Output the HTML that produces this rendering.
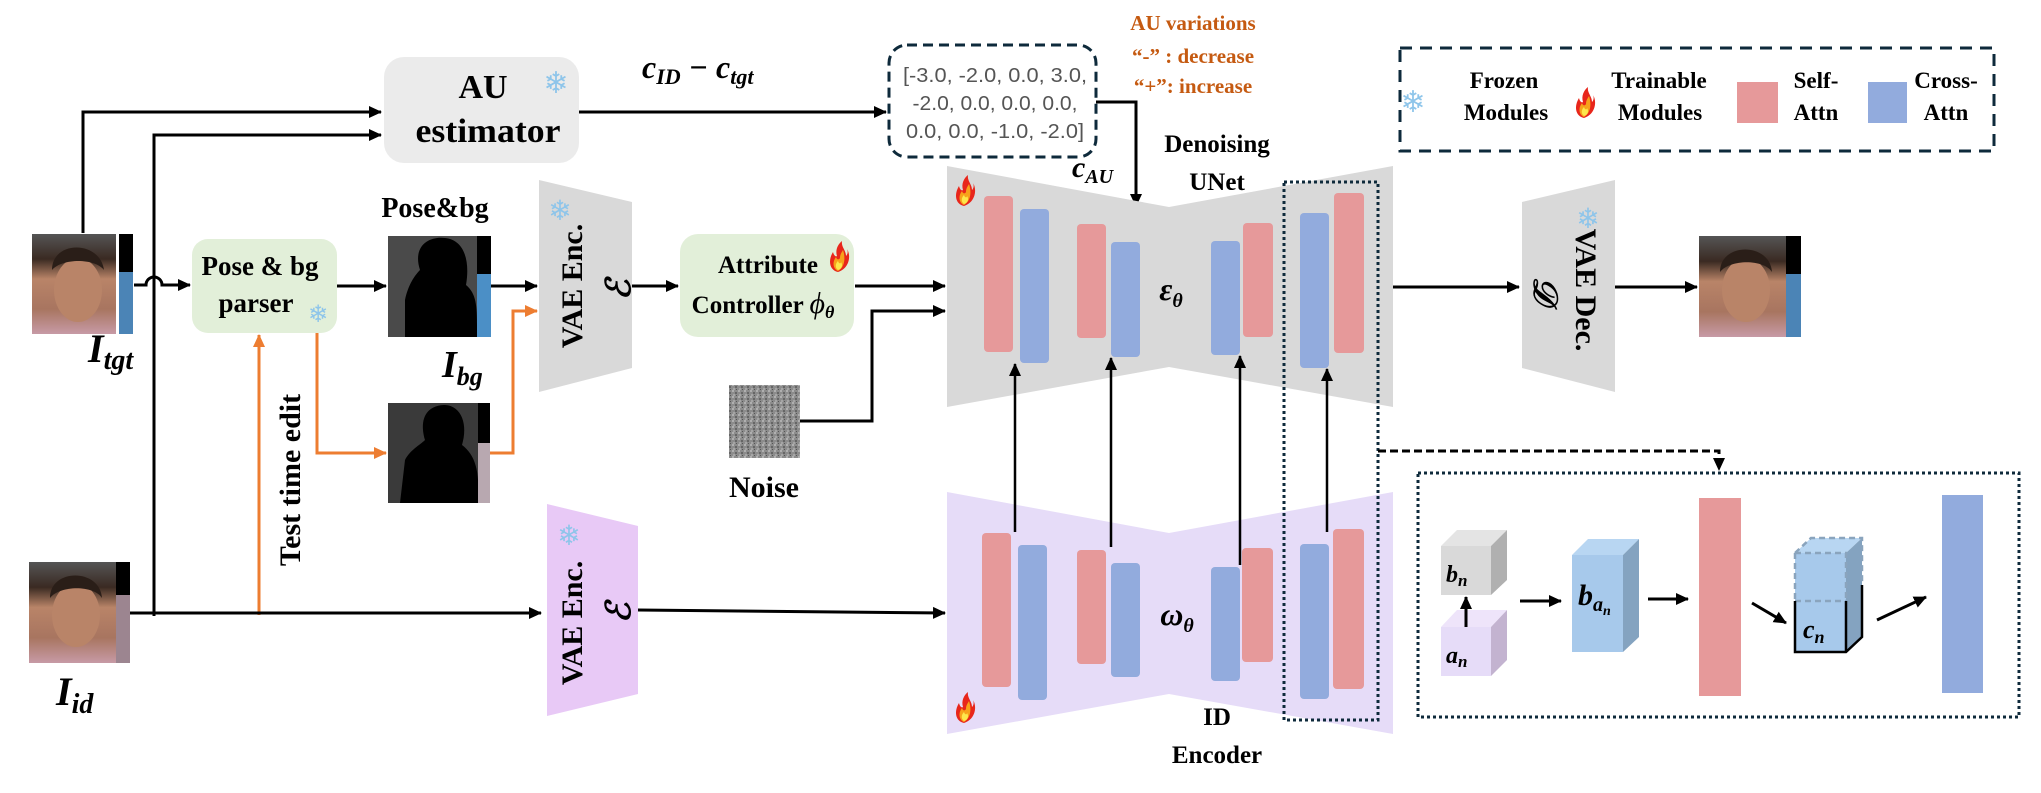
<!DOCTYPE html>
<html><head><meta charset="utf-8"><style>
html,body{margin:0;padding:0;background:#fff;}
svg{display:block;}
text{font-family:"Liberation Serif",serif;font-weight:bold;}
.s{font-family:"Liberation Sans",sans-serif;font-weight:normal;}
.m{font-style:italic;}
.snow{font-family:"DejaVu Sans",sans-serif;fill:#8ec5ea;font-weight:normal;}
</style></head><body>
<svg width="2041" height="793" viewBox="0 0 2041 793" xmlns="http://www.w3.org/2000/svg">
<defs>
<marker id="a" markerWidth="14" markerHeight="14" refX="12" refY="7" orient="auto" markerUnits="userSpaceOnUse"><path d="M0,1 L13,7 L0,13 Z" fill="#000"/></marker>
<marker id="o" markerWidth="14" markerHeight="14" refX="12" refY="7" orient="auto" markerUnits="userSpaceOnUse"><path d="M0,1 L13,7 L0,13 Z" fill="#ed7d31"/></marker>
<linearGradient id="face" x1="0" y1="0" x2="0" y2="1"><stop offset="0" stop-color="#555"/><stop offset=".25" stop-color="#3a2a22"/><stop offset=".45" stop-color="#b98468"/><stop offset=".75" stop-color="#a87560"/><stop offset="1" stop-color="#c79aa6"/></linearGradient>
<pattern id="nz" width="6" height="6" patternUnits="userSpaceOnUse"><rect width="6" height="6" fill="#8c8c8c"/><rect x="0" y="0" width="2" height="2" fill="#b0b0b0"/><rect x="3" y="2" width="2" height="2" fill="#666"/><rect x="1" y="4" width="2" height="2" fill="#a5a5a5"/><rect x="4" y="5" width="1" height="1" fill="#555"/></pattern>
<g id="flame"><path d="M0,16 C-9,14 -10,4 -5,-4 C-4,0 -2,1 -1,0 C-3,-6 0,-12 4,-15 C3,-9 8,-6 8,0 C10,-2 10,-5 9,-7 C13,-1 12,12 0,16Z" fill="#e8261b"/><path d="M0,15 C-5,13 -6,6 -2,1 C-1,4 1,4 2,2 C2,-2 4,-4 5,-6 C7,0 8,10 0,15Z" fill="#f7a21b"/><path d="M0,14 C-3,12 -3,8 0,5 C1,8 3,8 3,6 C5,9 4,13 0,14Z" fill="#fde74c"/></g>
</defs>

<rect x="384" y="57" width="195" height="106" rx="20" fill="#ebebeb"/>
<text x="483" y="98" font-size="34" text-anchor="middle">AU</text>
<text x="488" y="142" font-size="34" text-anchor="middle" textLength="145" lengthAdjust="spacingAndGlyphs">estimator</text>
<text x="556" y="93" font-size="30" class="snow" text-anchor="middle">❄</text>

<path d="M83,233 L83,112 L381,112" fill="none" stroke="#000" stroke-width="3" marker-end="url(#a)"/>
<path d="M154,616 L154,135 L381,135" fill="none" stroke="#000" stroke-width="3" marker-end="url(#a)"/>
<path d="M134,285 L146,285 A8,8 0 0 1 162,285 L190,285" fill="none" stroke="#000" stroke-width="3" marker-end="url(#a)"/>

<text x="642" y="78" font-size="32" class="m">c<tspan font-size="22" dy="6">ID</tspan><tspan dy="-6"> − c</tspan><tspan font-size="22" dy="6">tgt</tspan></text>
<line x1="579" y1="112" x2="886" y2="112" stroke="#000" stroke-width="3" marker-end="url(#a)"/>

<rect x="889" y="45" width="207" height="112" rx="18" fill="#fff" stroke="#0e2a3b" stroke-width="3" stroke-dasharray="10,6"/>
<text class="s" x="995" y="82" font-size="20" fill="#555" text-anchor="middle" textLength="184" lengthAdjust="spacingAndGlyphs">[-3.0, -2.0, 0.0, 3.0,</text>
<text class="s" x="995" y="110" font-size="20" fill="#555" text-anchor="middle" textLength="165" lengthAdjust="spacingAndGlyphs">-2.0, 0.0, 0.0, 0.0,</text>
<text class="s" x="995" y="138" font-size="20" fill="#555" text-anchor="middle" textLength="178" lengthAdjust="spacingAndGlyphs">0.0, 0.0, -1.0, -2.0]</text>
<path d="M1096,102 L1136,102 L1136,206" fill="none" stroke="#000" stroke-width="3" marker-end="url(#a)"/>
<text x="1072" y="177" font-size="30" class="m">c<tspan font-size="20" dy="6">AU</tspan></text>

<text x="1193" y="30" font-size="21" fill="#c55a11" text-anchor="middle">AU variations</text>
<text x="1193" y="63" font-size="21" fill="#c55a11" text-anchor="middle">“-” : decrease</text>
<text x="1193" y="93" font-size="21" fill="#c55a11" text-anchor="middle">“+”: increase</text>

<rect x="1400" y="48" width="594" height="103" fill="none" stroke="#0e2a3b" stroke-width="3" stroke-dasharray="12,8"/>
<text x="1413" y="112" font-size="30" class="snow" text-anchor="middle">❄</text>
<text x="1504" y="88" font-size="23" text-anchor="middle">Frozen</text>
<text x="1506" y="120" font-size="23" text-anchor="middle">Modules</text>
<use href="#flame" x="1584" y="102"/>
<text x="1659" y="88" font-size="23" text-anchor="middle">Trainable</text>
<text x="1660" y="120" font-size="23" text-anchor="middle">Modules</text>
<rect x="1737" y="82" width="41" height="41" fill="#e6999a"/>
<text x="1816" y="88" font-size="23" text-anchor="middle">Self-</text>
<text x="1816" y="120" font-size="23" text-anchor="middle">Attn</text>
<rect x="1868" y="82" width="39" height="41" fill="#92abdd"/>
<text x="1946" y="88" font-size="23" text-anchor="middle">Cross-</text>
<text x="1946" y="120" font-size="23" text-anchor="middle">Attn</text>

<rect x="32" y="234" width="84" height="100" fill="url(#face)"/>
<ellipse cx="78" cy="290" rx="24" ry="32" fill="#b98468"/>
<path d="M52,270 C52,240 100,240 104,270 C95,258 62,258 52,270Z" fill="#2a1e18"/>
<rect x="119" y="234" width="14" height="38" fill="#000"/>
<rect x="119" y="272" width="14" height="62" fill="#4b84b6"/>
<text x="88" y="362" font-size="40" class="m">I<tspan font-size="28" dy="7">tgt</tspan></text>

<rect x="192" y="239" width="145" height="94" rx="16" fill="#e2efd9"/>
<text x="260" y="275" font-size="27" text-anchor="middle">Pose &amp; bg</text>
<text x="256" y="312" font-size="27" text-anchor="middle">parser</text>
<text x="318" y="322" font-size="24" class="snow" text-anchor="middle">❄</text>
<line x1="337" y1="286" x2="386" y2="286" stroke="#000" stroke-width="3" marker-end="url(#a)"/>

<rect x="388" y="236" width="89" height="101" fill="#4a4a4a"/>
<path d="M405,337 L405,300 C408,285 415,275 420,270 C412,245 430,236 445,238 C465,240 470,262 466,285 C478,295 477,310 477,337Z" fill="#000"/>
<rect x="477" y="236" width="14" height="38" fill="#000"/>
<rect x="477" y="274" width="14" height="63" fill="#4b8fc6"/>
<text x="435" y="217" font-size="28" text-anchor="middle">Pose&amp;bg</text>
<text x="442" y="377" font-size="38" class="m">I<tspan font-size="26" dy="8">bg</tspan></text>
<line x1="491" y1="286" x2="537" y2="286" stroke="#000" stroke-width="3" marker-end="url(#a)"/>

<rect x="388" y="403" width="102" height="100" fill="#3a3a3a"/>
<path d="M400,503 L405,460 C410,450 420,445 425,440 C418,415 430,405 445,405 C462,406 468,425 462,445 C475,455 480,470 478,503Z" fill="#000"/>
<rect x="478" y="403" width="12" height="40" fill="#000"/>
<rect x="478" y="443" width="12" height="60" fill="#b8a8b0"/>

<path d="M317,333 L317,453 L386,453" fill="none" stroke="#ed7d31" stroke-width="3" marker-end="url(#o)"/>
<path d="M259,615 L259,335" fill="none" stroke="#ed7d31" stroke-width="3" marker-end="url(#o)"/>
<path d="M490,453 L513,453 L513,311 L537,311" fill="none" stroke="#ed7d31" stroke-width="3" marker-end="url(#o)"/>
<text transform="translate(300,480) rotate(-90)" font-size="30" text-anchor="middle">Test time edit</text>

<polygon points="539,180 632,202 632,368 539,392" fill="#d9d9d9"/>
<text transform="translate(582,286) rotate(-90)" font-size="30" text-anchor="middle">VAE Enc.</text>
<text transform="translate(630,290) rotate(-90)" font-size="34" class="m" font-weight="normal" text-anchor="middle">ℰ</text>
<text x="560" y="220" font-size="28" class="snow" text-anchor="middle">❄</text>
<line x1="632" y1="286" x2="678" y2="286" stroke="#000" stroke-width="3" marker-end="url(#a)"/>

<rect x="680" y="234" width="174" height="103" rx="18" fill="#e2efd9"/>
<text x="768" y="273" font-size="25" text-anchor="middle">Attribute</text>
<text x="763" y="313" font-size="25" text-anchor="middle">Controller <tspan class="m" font-weight="normal" font-size="30">ϕ</tspan><tspan class="m" font-size="18" dy="5">θ</tspan></text>
<use href="#flame" x="838" y="256"/>
<line x1="855" y1="286" x2="945" y2="286" stroke="#000" stroke-width="3" marker-end="url(#a)"/>
<path d="M800,421 L872,421 L872,311 L945,311" fill="none" stroke="#000" stroke-width="3" marker-end="url(#a)"/>

<rect x="729" y="385" width="71" height="73" fill="url(#nz)"/>
<text x="764" y="497" font-size="30" text-anchor="middle">Noise</text>

<polygon points="947,166 1169,207 1393,166 1393,407 1169,367 947,407" fill="#d9d9d9"/>
<rect x="984" y="196" width="29" height="156" rx="4" fill="#e6999a"/>
<rect x="1020" y="209" width="29" height="154" rx="4" fill="#92abdd"/>
<rect x="1077" y="224" width="29" height="114" rx="4" fill="#e6999a"/>
<rect x="1111" y="242" width="29" height="115" rx="4" fill="#92abdd"/>
<rect x="1211" y="241" width="29" height="114" rx="4" fill="#92abdd"/>
<rect x="1243" y="223" width="30" height="114" rx="4" fill="#e6999a"/>
<rect x="1300" y="213" width="29" height="155" rx="4" fill="#92abdd"/>
<rect x="1334" y="193" width="30" height="160" rx="4" fill="#e6999a"/>
<use href="#flame" x="964" y="190"/>
<text x="1171" y="300" font-size="32" class="m" font-weight="normal" text-anchor="middle">ε<tspan font-size="20" dy="7">θ</tspan></text>
<text x="1217" y="152" font-size="25" text-anchor="middle">Denoising</text>
<text x="1217" y="190" font-size="25" text-anchor="middle">UNet</text>

<polygon points="947,492 1169,533 1393,492 1393,734 1169,694 947,734" fill="#e6dcf8"/>
<rect x="982" y="533" width="29" height="154" rx="4" fill="#e6999a"/>
<rect x="1018" y="545" width="29" height="155" rx="4" fill="#92abdd"/>
<rect x="1077" y="550" width="29" height="114" rx="4" fill="#e6999a"/>
<rect x="1111" y="563" width="29" height="114" rx="4" fill="#92abdd"/>
<rect x="1211" y="567" width="29" height="114" rx="4" fill="#92abdd"/>
<rect x="1242" y="548" width="31" height="114" rx="4" fill="#e6999a"/>
<rect x="1300" y="544" width="29" height="155" rx="4" fill="#92abdd"/>
<rect x="1333" y="529" width="31" height="160" rx="4" fill="#e6999a"/>
<use href="#flame" x="964" y="707"/>
<text x="1177" y="625" font-size="32" class="m" font-weight="normal" text-anchor="middle">ω<tspan font-size="20" dy="7">θ</tspan></text>
<text x="1217" y="725" font-size="25" text-anchor="middle">ID</text>
<text x="1217" y="763" font-size="25" text-anchor="middle">Encoder</text>

<g stroke="#000" stroke-width="2.5" marker-end="url(#a)">
<line x1="1015" y1="532" x2="1015" y2="364"/>
<line x1="1111" y1="547" x2="1111" y2="358"/>
<line x1="1240" y1="565" x2="1240" y2="356"/>
<line x1="1327" y1="532" x2="1327" y2="369"/>
</g>

<rect x="1284" y="182" width="94" height="538" fill="none" stroke="#0e2a3b" stroke-width="3" stroke-dasharray="3,3"/>
<path d="M1378,451 L1719,451 L1719,470" fill="none" stroke="#000" stroke-width="3" stroke-dasharray="8,4" marker-end="url(#a)"/>

<rect x="29" y="562" width="87" height="101" fill="url(#face)"/>
<ellipse cx="76" cy="615" rx="24" ry="32" fill="#b98468"/>
<path d="M50,598 C50,568 100,568 102,598 C94,585 60,585 50,598Z" fill="#2a1e18"/>
<rect x="116" y="562" width="14" height="33" fill="#000"/>
<rect x="116" y="595" width="14" height="68" fill="#9c8590"/>
<text x="56" y="705" font-size="40" class="m">I<tspan font-size="28" dy="8">id</tspan></text>
<line x1="130" y1="613" x2="541" y2="613" stroke="#000" stroke-width="3" marker-end="url(#a)"/>

<polygon points="547,504 638,526 638,694 547,716" fill="#e8c9f6"/>
<text transform="translate(582,623) rotate(-90)" font-size="30" text-anchor="middle">VAE Enc.</text>
<text transform="translate(630,613) rotate(-90)" font-size="34" class="m" font-weight="normal" text-anchor="middle">ℰ</text>
<text x="569" y="545" font-size="28" class="snow" text-anchor="middle">❄</text>
<line x1="638" y1="610" x2="945" y2="613" stroke="#000" stroke-width="3" marker-end="url(#a)"/>

<line x1="1393" y1="287" x2="1519" y2="287" stroke="#000" stroke-width="3" marker-end="url(#a)"/>
<polygon points="1522,202 1615,180 1615,392 1522,368" fill="#d9d9d9"/>
<text transform="translate(1576,290) rotate(90)" font-size="30" text-anchor="middle">VAE Dec.</text>
<text transform="translate(1534,290) rotate(90)" font-size="34" class="m" font-weight="normal" text-anchor="middle">𝒟</text>
<text x="1588" y="228" font-size="28" class="snow" text-anchor="middle">❄</text>
<line x1="1615" y1="287" x2="1697" y2="287" stroke="#000" stroke-width="3" marker-end="url(#a)"/>
<rect x="1699" y="236" width="87" height="101" fill="url(#face)"/>
<ellipse cx="1746" cy="290" rx="24" ry="32" fill="#b98468"/>
<path d="M1720,272 C1720,242 1770,242 1772,272 C1764,259 1730,259 1720,272Z" fill="#2a1e18"/>
<rect x="1786" y="236" width="15" height="38" fill="#000"/>
<rect x="1786" y="274" width="15" height="63" fill="#4b84b6"/>

<rect x="1418" y="473" width="601" height="244" fill="none" stroke="#0e2a3b" stroke-width="3" stroke-dasharray="3,3"/>
<polygon points="1441,546 1457,530 1507,530 1491,546" fill="#e4e4e4"/>
<polygon points="1491,546 1507,530 1507,580 1491,595" fill="#b0b0b0"/>
<rect x="1441" y="546" width="50" height="49" fill="#d9d9d9"/>
<text x="1446" y="582" font-size="24" class="m">b<tspan font-size="17" dy="4">n</tspan></text>
<polygon points="1441,627 1457,610 1507,610 1491,627" fill="#eee4fa"/>
<polygon points="1491,627 1507,610 1507,660 1491,676" fill="#c3b3d0"/>
<rect x="1441" y="627" width="50" height="49" fill="#e6dcf8"/>
<text x="1446" y="663" font-size="24" class="m">a<tspan font-size="17" dy="4">n</tspan></text>
<line x1="1466" y1="627" x2="1466" y2="597" stroke="#000" stroke-width="3" marker-end="url(#a)"/>
<line x1="1520" y1="601" x2="1561" y2="601" stroke="#000" stroke-width="3" marker-end="url(#a)"/>
<polygon points="1572,555 1588,539 1639,539 1623,555" fill="#b8d6f2"/>
<polygon points="1623,555 1639,539 1639,637 1623,652" fill="#84a3c0"/>
<rect x="1572" y="555" width="51" height="97" fill="#a7c9eb"/>
<text x="1578" y="605" font-size="30" class="m">b<tspan font-size="20" dy="6">a</tspan><tspan font-size="14" dy="4">n</tspan></text>
<line x1="1648" y1="599" x2="1688" y2="599" stroke="#000" stroke-width="3" marker-end="url(#a)"/>
<rect x="1699" y="498" width="42" height="198" fill="#e6999a"/>
<line x1="1752" y1="603" x2="1786" y2="623" stroke="#000" stroke-width="3" marker-end="url(#a)"/>
<polygon points="1795,553 1811,538 1862,538 1846,553" fill="#b8d6f2"/>
<polygon points="1846,553 1862,538 1862,637 1846,652" fill="#84a3c0"/>
<rect x="1795" y="553" width="51" height="99" fill="#a7c9eb"/>
<path d="M1795,553 L1811,538 L1862,538 L1862,585 M1795,553 L1846,553 L1846,601 M1795,553 L1795,601 M1795,601 L1846,601" fill="none" stroke="#8aa4bd" stroke-width="2.5" stroke-dasharray="6,4"/>
<path d="M1795,601 L1795,652 L1846,652 L1862,637 L1862,585 M1846,601 L1846,652" fill="none" stroke="#000" stroke-width="2.5"/>
<text x="1803" y="638" font-size="26" class="m">c<tspan font-size="18" dy="5">n</tspan></text>
<line x1="1877" y1="620" x2="1926" y2="597" stroke="#000" stroke-width="3" marker-end="url(#a)"/>
<rect x="1942" y="495" width="41" height="198" fill="#92abdd"/>
</svg>
</body></html>
